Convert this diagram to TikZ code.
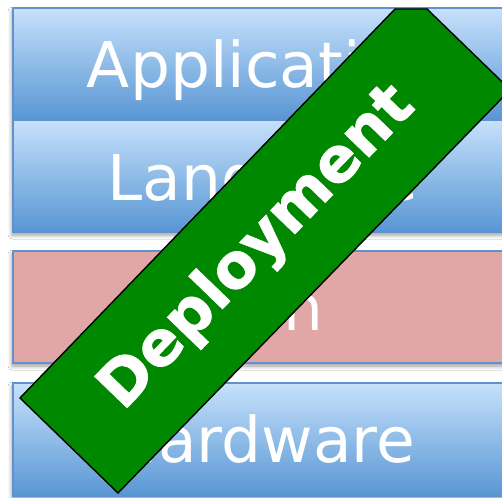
\documentclass[tikz,border=0pt]{standalone}
\usepackage{fontspec}
\setmainfont{DejaVu Sans}
\newfontfamily\bannerfont[FakeBold=1.2]{DejaVu Sans Bold}
\usetikzlibrary{shadows.blur}

\definecolor{layertop}{RGB}{198,225,251}
\definecolor{layerbot}{RGB}{88,150,212}
\definecolor{layeredge}{RGB}{98,145,203}
\definecolor{runfill}{RGB}{225,166,166}
\definecolor{bandgreen}{RGB}{0,137,0}

\tikzset{
  layershadow/.style={blur shadow={shadow xshift=-1pt, shadow yshift=-3pt,
      shadow blur radius=4pt, shadow opacity=40}},
  bluelayer/.style={draw=layeredge, line width=1.2pt,
      top color=layertop, bottom color=layerbot},
  pinklayer/.style={draw=layeredge, line width=1.2pt, fill=runfill},
  layertext/.style={text=white, inner sep=0pt, anchor=base,
      font=\fontsize{63}{63}\selectfont},
  banner/.style={draw=black, line width=1.4pt, fill=bandgreen},
  bannertext/.style={text=white, inner sep=0pt, anchor=base west, rotate=46,
      font=\fontsize{62}{62}\bannerfont},
}

\begin{document}
\begin{tikzpicture}[x=1pt, y=-1pt]
  \useasboundingbox (0,0) rectangle (502,497);
  \clip (0,0) rectangle (502,497);
  \fill[white] (0,0) rectangle (502,497);

  % soft shadows under the layer stack
  \path[layershadow, fill=white] (13,8) rectangle (513,232);
  \path[layershadow, fill=white] (13,251) rectangle (513,363);
  \path[layershadow, fill=white] (13,383) rectangle (513,496);

  % layers, top to bottom
  \path[bluelayer] (13,8) rectangle (513,120);
  \path[bluelayer] (13,120) rectangle (513,232);
  \path[pinklayer] (13,251) rectangle (513,363);
  \path[bluelayer] (13,383) rectangle (513,496);

  \node[layertext] (app)  at (263,88)  {Application};
  \node[layertext] (lang) at (263,200) {Language};
  \node[layertext] (run)  at (263,330) {Run};
  \node[layertext] (hw)   at (263,462) {Hardware};

  % diagonal banner across the stack
  \path[banner] (20,398) -- (395,9) -- (427,9) -- (510.2,89.7) -- (118,493) -- cycle;
  \node[bannertext] (deploy) at (123,412) {Deployment};
\end{tikzpicture}
\end{document}
